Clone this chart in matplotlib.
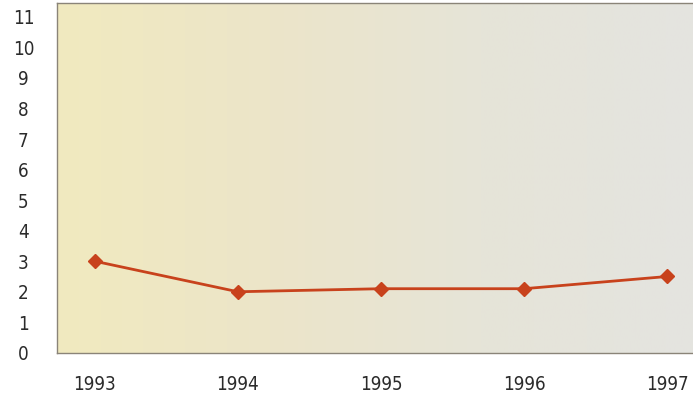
import numpy as np
import matplotlib.pyplot as plt
from matplotlib.colors import LinearSegmentedColormap

# yearly values
anios = [1993, 1994, 1995, 1996, 1997]
valores = [3.0, 2.0, 2.1, 2.1, 2.5]
ticks_y = list(range(0, 12))

plt.rcParams['font.family'] = ['DejaVu Sans']
plt.rcParams['font.stretch'] = 'condensed'

fig = plt.figure(figsize=(6.93, 3.96), dpi=100)
fig.patch.set_facecolor('white')
ax1 = fig.add_axes([0.082, 0.109, 0.918, 0.883])

# fondo degradado amarillo -> gris
fondo = LinearSegmentedColormap.from_list('fondo', ['#f1eabf', '#ece5c9', '#e6e4d8', '#e4e4e0'])
grad = np.linspace(0, 1, 256).reshape(1, -1)
ax1.imshow(grad, cmap=fondo, aspect='auto', extent=[0, 1, 0, 1],
           transform=ax1.transAxes, zorder=0)

ax1.plot(anios, valores, color='#c8421c', lw=2, marker='D', markersize=7,
         markeredgecolor='#c8421c', zorder=3)

ax1.set_xlim(1992.735, 1997.18)
ax1.set_ylim(0.13, 11.45)
ax1.set_xticks(anios)
ax1.set_yticks(ticks_y)
ax1.tick_params(length=0, labelsize=13.5, colors='#2b2b2b')
ax1.tick_params(axis='x', pad=16)
ax1.tick_params(axis='y', pad=24)
for lab in ax1.get_yticklabels():
    lab.set_horizontalalignment('center')

for lado in ['left', 'bottom', 'top']:
    ax1.spines[lado].set_color('#8a8478')
    ax1.spines[lado].set_linewidth(1)
ax1.spines['right'].set_visible(False)

fig.savefig('out.png', dpi=100)
